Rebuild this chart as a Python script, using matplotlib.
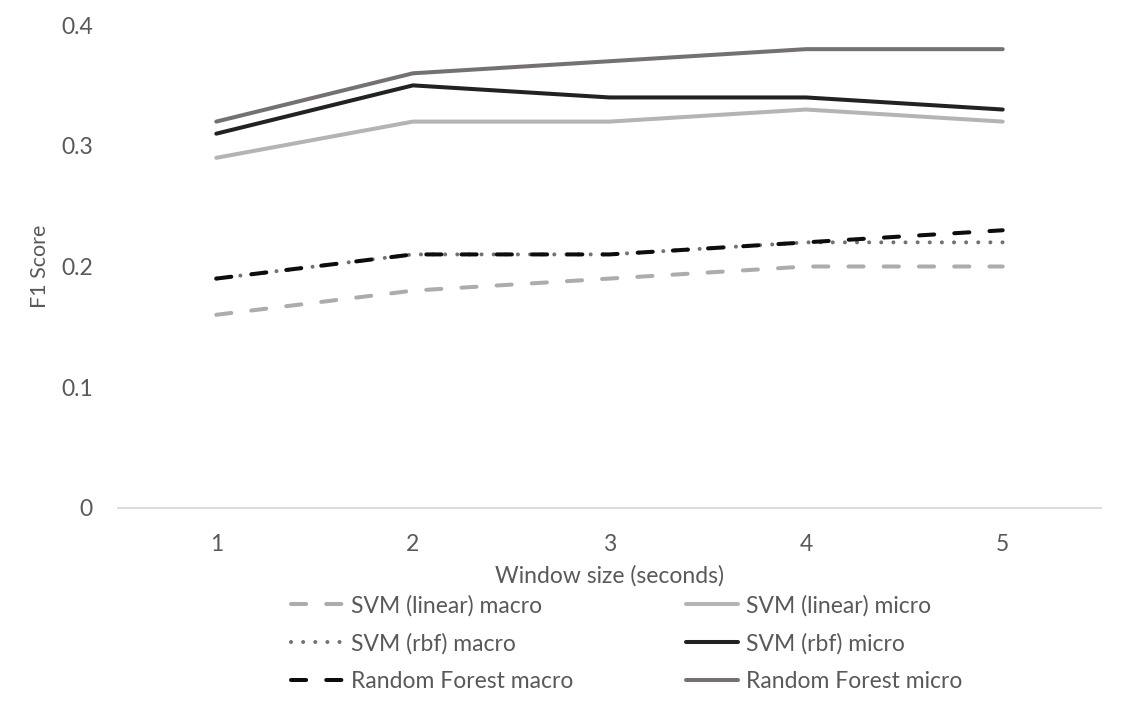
import matplotlib
matplotlib.use("Agg")
from matplotlib import pyplot as plt

plt.rcParams['font.family'] = ['Lato', 'DejaVu Sans']

window = [1, 2, 3, 4, 5]
svm_linear_macro = [0.16, 0.18, 0.19, 0.20, 0.20]
svm_rbf_macro = [0.19, 0.21, 0.21, 0.22, 0.22]
rf_macro = [0.19, 0.21, 0.21, 0.22, 0.23]
svm_linear_micro = [0.29, 0.32, 0.32, 0.33, 0.32]
svm_rbf_micro = [0.31, 0.35, 0.34, 0.34, 0.33]
rf_micro = [0.32, 0.36, 0.37, 0.38, 0.38]
yticks = [0, 0.1, 0.2, 0.3, 0.4]
ytick_labels = ['0', '0.1', '0.2', '0.3', '0.4']

text_color = '#595959'
lw = 2.9
W, H = 1122, 710

fig = plt.figure(figsize=(W / 100, H / 100), dpi=100)
ax = fig.add_axes([118 / W, 202 / H, 983 / W, 483 / H])

common = dict(linewidth=lw, solid_capstyle='round', dash_capstyle='round')
ax.plot(window, svm_linear_macro, color='#aeabab', dashes=(3.75, 5), label='SVM (linear) macro', **common)
ax.plot(window, svm_rbf_macro, color='#767171', dashes=(0.01, 3), label='SVM (rbf) macro', **common)
ax.plot(window, rf_macro, color='#0d0d0d', dashes=(3.75, 5), label='Random Forest macro', **common)
ax.plot(window, svm_linear_micro, color='#b4b4b4', label='SVM (linear) micro', **common)
ax.plot(window, svm_rbf_micro, color='#222222', label='SVM (rbf) micro', **common)
ax.plot(window, rf_micro, color='#767171', label='Random Forest micro', **common)

ax.set_xlim(0.5, 5.5)
ax.set_ylim(0, 0.4)
ax.set_xticks(window)
ax.set_yticks(yticks)
ax.set_yticklabels(ytick_labels)
for side in ['top', 'right', 'left']:
    ax.spines[side].set_visible(False)
ax.spines['bottom'].set_color('#d9d9d9')
ax.spines['bottom'].set_linewidth(1.3)
ax.tick_params(axis='both', length=0, labelsize=16.5, colors=text_color)
ax.tick_params(axis='y', pad=18)
ax.tick_params(axis='x', pad=19)

ax.set_xlabel('Window size (seconds)', fontsize=16.5, color=text_color, labelpad=7)
ax.set_ylabel('F1 Score', fontsize=15.5, color=text_color, labelpad=8)

fig.legend(loc='upper left', bbox_to_anchor=(291 / W, 1 - 595 / H), ncol=2,
           frameon=False, fontsize=16.5, handlelength=2.27, handletextpad=0.35,
           borderpad=0, borderaxespad=0,
           columnspacing=4.9, labelspacing=0.71, labelcolor=text_color,
           handles=ax.get_lines())

fig.savefig('out.png', dpi=100)
